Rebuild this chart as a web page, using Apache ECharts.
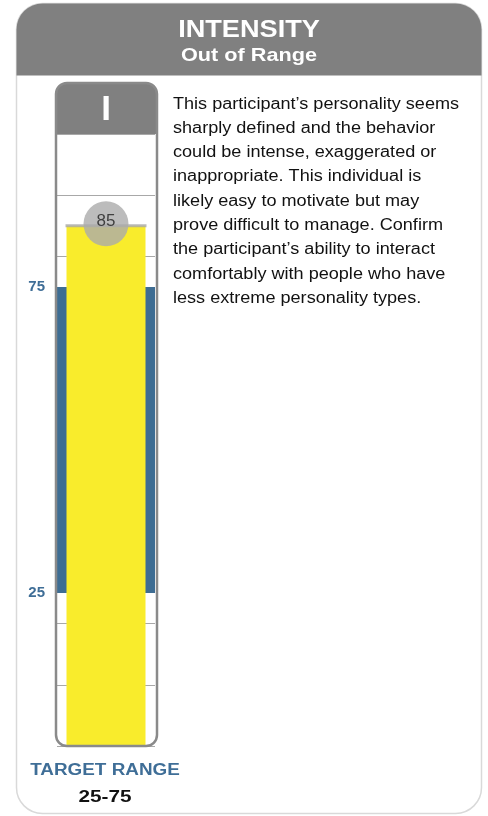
<!DOCTYPE html>
<html>
<head>
<meta charset="utf-8">
<script src="https://cdn.jsdelivr.net/npm/echarts@6/dist/echarts.min.js"></script>
<style>
  html, body { margin: 0; padding: 0; background: #fff; }
  #chart { width: 488px; height: 816px; }
</style>
</head>
<body>
<div id="chart"></div>
<script>
// 数据
const categories = ['I'];
const scores = [85];
const targetRange = [25, 75];
const rangeLabels = [25, 75];
const title = 'INTENSITY';
const subtitle = 'Out of Range';
const descLines = [
  'This participant\u2019s personality seems',
  'sharply defined and the behavior',
  'could be intense, exaggerated or',
  'inappropriate. This individual is',
  'likely easy to motivate but may',
  'prove difficult to manage. Confirm',
  'the participant\u2019s ability to interact',
  'comfortably with people who have',
  'less extreme personality types.'
];

const FONT = '"Liberation Sans", Arial, sans-serif';
const chart = echarts.init(document.getElementById('chart'));

// 文字稍微横向拉宽, 跟原图一致
const stretchedText = (x, y, text, font, fill, scaleX, align) => ({
  type: 'text',
  z: 3,
  x: x,
  y: y,
  scaleX: scaleX,
  style: {
    text: text,
    align: align || 'center',
    verticalAlign: align ? 'top' : 'middle',
    fill: fill,
    font: font
  }
});

const option = {
  animation: false,
  grid: {
    left: 57,
    width: 98,
    top: 134,
    bottom: 70
  },
  xAxis: {
    type: 'category',
    data: categories,
    axisLine: { show: false },
    axisTick: { show: false },
    axisLabel: { show: false }
  },
  yAxis: [
    {
      type: 'value',
      min: 0,
      max: 100,
      interval: 10,
      axisLine: { show: false },
      axisTick: { show: false },
      axisLabel: { show: false },
      splitLine: { lineStyle: { color: '#a8a8a8', width: 1 } }
    },
    {
      type: 'value',
      position: 'left',
      min: 0,
      max: 100,
      interval: 25,
      axisLine: { show: false },
      axisTick: { show: false },
      splitLine: { show: false },
      axisLabel: {
        margin: 12,
        color: '#3f6e97',
        fontWeight: 'bold',
        fontSize: 15,
        fontFamily: FONT,
        formatter: v => rangeLabels.includes(v) ? String(v) : ''
      }
    }
  ],
  series: [
    {
      type: 'bar',
      data: scores,
      barWidth: 79,
      itemStyle: { color: '#f9ec2c' },
      z: 3,
      markArea: {
        silent: true,
        itemStyle: { color: '#3e6d93' },
        data: [[{ yAxis: targetRange[0] }, { yAxis: targetRange[1] }]]
      }
    },
    {
      type: 'scatter',
      data: scores.map((v, i) => [i, v]),
      symbol: 'rect',
      symbolSize: [81, 3],
      itemStyle: { color: '#a9a9a9' },
      z: 4,
      silent: true
    },
    {
      type: 'scatter',
      data: scores.map((v, i) => [i, v]),
      symbol: 'circle',
      symbolSize: 45,
      symbolOffset: [0, -2],
      itemStyle: { color: '#ababab' },
      z: 5,
      silent: true,
      label: {
        show: true,
        position: 'inside',
        offset: [0, -2],
        color: '#222',
        fontSize: 17,
        fontFamily: FONT,
        formatter: p => String(p.value[1])
      }
    }
  ],
  graphic: [
    // 外框
    {
      type: 'rect',
      z: 1,
      shape: { x: 16.5, y: 3.5, width: 465, height: 810, r: 26 },
      style: { fill: 'none', stroke: '#d9d9d9', lineWidth: 1.5 }
    },
    {
      type: 'rect',
      z: 2,
      shape: { x: 16.5, y: 3.5, width: 465, height: 72, r: [26, 26, 0, 0] },
      style: { fill: '#808080' }
    },
    stretchedText(249, 30, title, 'bold 24px ' + FONT, '#fff', 1.13),
    stretchedText(249, 56, subtitle, 'bold 19px ' + FONT, '#fff', 1.14),
    // 量表框
    {
      type: 'rect',
      z: 100,
      shape: { x: 56, y: 83, width: 101, height: 51, r: [10, 10, 0, 0] },
      style: { fill: '#808080' }
    },
    {
      type: 'text',
      z: 101,
      style: {
        x: 106, y: 110, text: categories[0], align: 'center', verticalAlign: 'middle',
        fill: '#fff', font: 'bold 35px ' + FONT
      }
    },
    {
      type: 'rect',
      z: 102,
      shape: { x: 56, y: 83, width: 101, height: 663, r: 11 },
      style: { fill: 'none', stroke: '#8a8a8a', lineWidth: 2.5 }
    },
    // 目标范围
    stretchedText(105, 771, 'TARGET RANGE', 'bold 16px ' + FONT, '#3f6e97', 1.18),
    stretchedText(105, 797, targetRange.join('-'), 'bold 17px ' + FONT, '#111', 1.22),
    // 说明文字
    {
      type: 'text',
      z: 3,
      x: 173,
      y: 92,
      scaleX: 1.13,
      style: {
        text: descLines.join('\n'), align: 'left', verticalAlign: 'top',
        fill: '#111', font: '16px ' + FONT, lineHeight: 24.3
      }
    }
  ]
};

chart.setOption(option);
</script>
</body>
</html>
